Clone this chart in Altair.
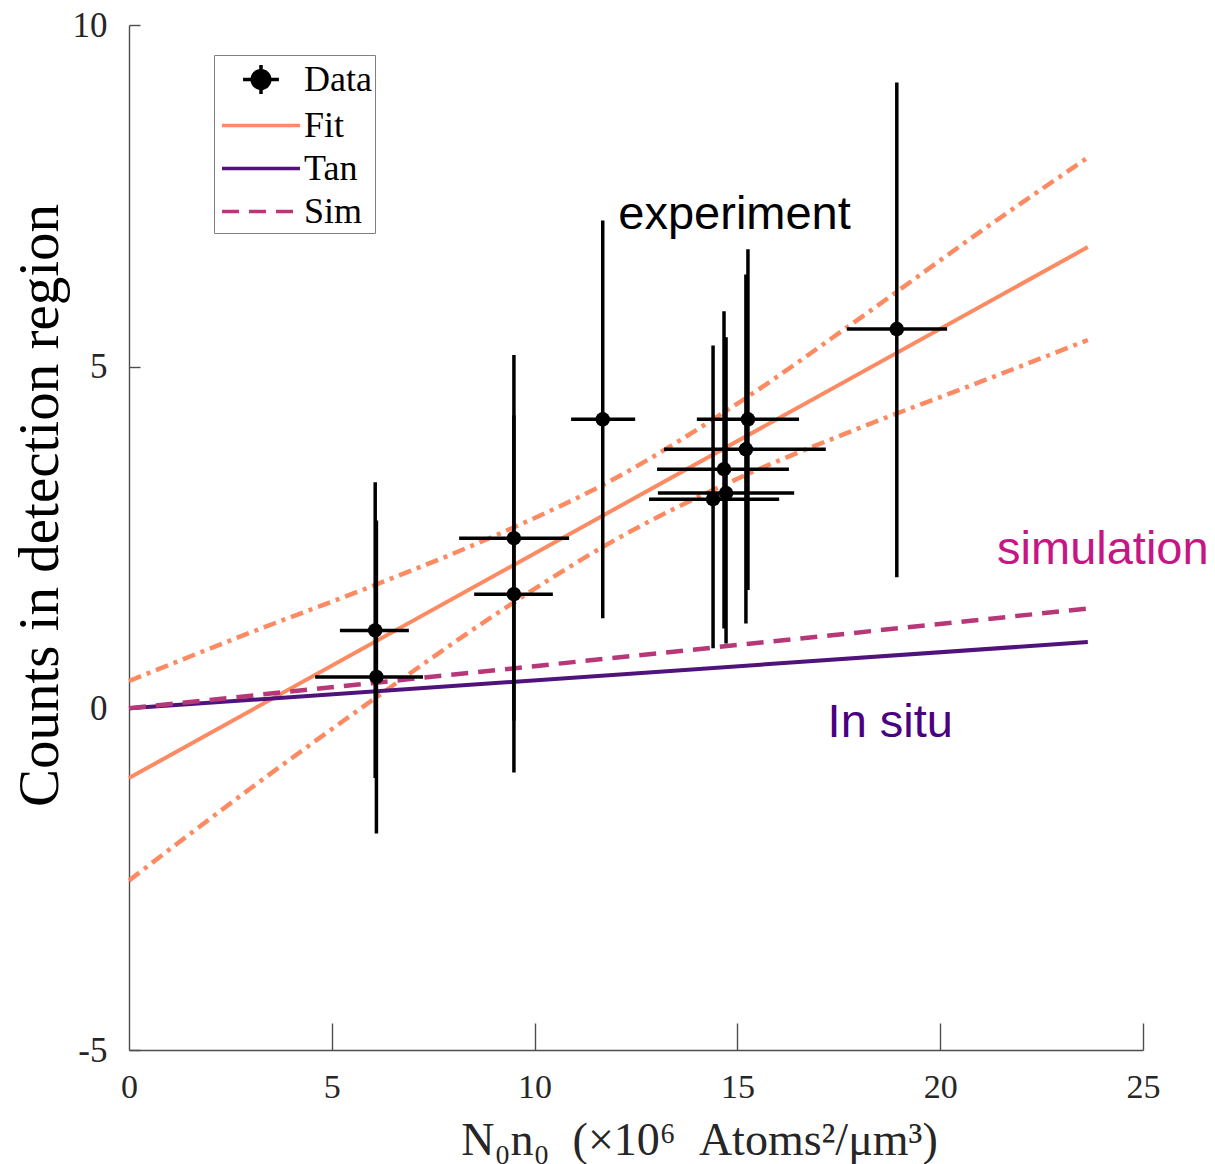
import altair as alt
import pandas as pd

# ---------------- data ----------------
x_val = [6.07, 6.10, 9.49, 9.49, 11.68, 14.40, 14.67, 14.72, 15.21, 15.26, 18.93]
y_val = [1.14, 0.46, 2.49, 1.67, 4.23, 3.06, 3.50, 3.15, 3.79, 4.23, 5.55]
x_lo = [5.20, 4.59, 8.14, 8.51, 10.90, 12.82, 13.02, 13.04, 13.19, 14.00, 17.70]
x_hi = [6.90, 7.25, 10.85, 10.45, 12.48, 16.03, 16.27, 16.40, 17.18, 16.52, 20.17]
y_lo = [-1.02, -1.83, -0.18, -0.94, 1.32, 0.88, 1.17, 0.95, 1.24, 1.73, 1.92]
y_hi = [3.31, 2.75, 5.17, 4.29, 7.14, 5.31, 5.81, 5.43, 6.35, 6.72, 9.16]

fit_x = [0, 23.64]
fit_y = [-1.02, 6.75]
ci_x = [0, 3, 6, 9, 12, 15, 18, 21, 23.64]
ci_upper = [0.40, 1.11, 1.79, 2.52, 3.37, 4.46, 5.70, 6.98, 8.06]
ci_lower = [-2.52, -1.17, 0.12, 1.36, 2.47, 3.36, 4.10, 4.78, 5.39]
tan_x = [0, 23.64]
tan_y = [0, 0.97]
sim_x = [0, 23.64]
sim_y = [0, 1.46]

x_ticks = [0, 5, 10, 15, 20, 25]
y_ticks = [-5, 0, 5, 10]

ann_text = ["experiment", "simulation", "In situ"]
ann_x = [14.93, 24.01, 18.77]
ann_y = [7.02, 2.11, -0.42]
ann_color = ["#000000", "#C71585", "#4B0082"]

legend_labels = ["Data", "Fit", "Tan", "Sim"]

# ---------------- styles ----------------
FIT_C = "#FC8A62"
TAN_C = "#50127B"
SIM_C = "#B73779"
legend_colors = ["#000000", FIT_C, TAN_C, SIM_C]
data_path = ("M-0.92,0L0.92,0M0,-0.74L0,0.74"
             "M-0.45,0A0.45,0.45 0 1,0 0.45,0A0.45,0.45 0 1,0 -0.45,0Z")
line_path = "M-2,0L2,0"
legend_shapes = [data_path, line_path, line_path, line_path]
legend_dashes = [[1, 0], [1, 0], [1, 0], [17, 10]]

AXIS_C = "#4d4d4d"
TXT_C = "#262626"
SERIF = "Liberation Serif"
SANS = "Liberation Sans"
W, H = 1014, 1025

xscale = alt.Scale(domain=[0, 25], nice=False, zero=False)
yscale = alt.Scale(domain=[-5, 10], nice=False, zero=False)

x_axis_main = alt.Axis(values=x_ticks, ticks=False, domain=True, domainColor=AXIS_C,
                       domainWidth=1.4, grid=False, labelFont=SERIF, labelFontSize=34,
                       labelColor=TXT_C, labelPadding=20, labelFlush=False,
                       labelExpr="'' + datum.value",
                       title="N₀n₀\u2002(×10⁶\u2002Atoms²/μm³)", titleFont=SERIF,
                       titleFontSize=46, titleFontWeight="normal", titleColor=TXT_C,
                       titleX=570, titleY=90, titleBaseline="middle")
y_axis_main = alt.Axis(values=y_ticks, ticks=False, domain=True, domainColor=AXIS_C,
                       domainWidth=1.4, grid=False, labelFont=SERIF, labelFontSize=35,
                       labelColor=TXT_C, labelPadding=22, labelFlush=False,
                       labelExpr="'' + datum.value",
                       title="Counts in detection region", titleFont=SERIF, titleFontSize=57,
                       titleFontWeight="normal", titleColor="#000000", titleX=-89, titleY=480,
                       titleBaseline="middle")
x_axis_ticks = alt.Axis(orient="top", offset=-H, values=[5, 10, 15, 20, 25], labels=False,
                        domain=False, ticks=True, tickSize=27, tickColor=AXIS_C,
                        tickWidth=1.4, grid=False, title=None)
y_axis_ticks = alt.Axis(orient="right", offset=-W, values=y_ticks, labels=False,
                        domain=False, ticks=True, tickSize=11, tickColor=AXIS_C,
                        tickWidth=1.4, grid=False, title=None)


def line_layer(xs, ys, color, width, dash=None, interp="linear", xaxis=None, yaxis=None):
    df = pd.DataFrame({"x": xs, "y": ys})
    kw = dict(color=color, strokeWidth=width, interpolate=interp, strokeCap="butt")
    if dash:
        kw["strokeDash"] = dash
    return alt.Chart(df).mark_line(**kw).encode(
        x=alt.X("x:Q", scale=xscale, axis=xaxis),
        y=alt.Y("y:Q", scale=yscale, axis=yaxis),
    )


ci_up = line_layer(ci_x, ci_upper, FIT_C, 4.5, dash=[13, 6, 4, 6], interp="monotone")
ci_lo = line_layer(ci_x, ci_lower, FIT_C, 4.5, dash=[13, 6, 4, 6], interp="monotone")
fit = line_layer(fit_x, fit_y, FIT_C, 4, xaxis=x_axis_ticks, yaxis=y_axis_ticks)
tan = line_layer(tan_x, tan_y, TAN_C, 4)
sim = line_layer(sim_x, sim_y, SIM_C, 4.5, dash=[17, 10])

pts = pd.DataFrame({"x": x_val, "y": y_val, "xlo": x_lo, "xhi": x_hi,
                    "ylo": y_lo, "yhi": y_hi})
base = alt.Chart(pts)
xerr = base.mark_rule(color="black", strokeWidth=3.5).encode(
    x=alt.X("xlo:Q", scale=xscale, axis=None), x2="xhi:Q",
    y=alt.Y("y:Q", scale=yscale, axis=None))
yerr = base.mark_rule(color="black", strokeWidth=3.5).encode(
    x=alt.X("x:Q", scale=xscale, axis=None),
    y=alt.Y("ylo:Q", scale=yscale, axis=None), y2="yhi:Q")
dots = base.mark_circle(color="black", size=210, opacity=1).encode(
    x=alt.X("x:Q", scale=xscale, axis=x_axis_main),
    y=alt.Y("y:Q", scale=yscale, axis=y_axis_main))

ann = pd.DataFrame({"t": ann_text, "x": ann_x, "y": ann_y, "c": ann_color})
texts = alt.Chart(ann).mark_text(font=SANS, fontSize=47, align="center",
                                 baseline="alphabetic").encode(
    x=alt.X("x:Q", scale=xscale, axis=None),
    y=alt.Y("y:Q", scale=yscale, axis=None),
    text="t:N",
    color=alt.Color("c:N", scale=None),
)

leg = alt.Legend(title=None, orient="none", legendX=85, legendY=30, padding=3,
                 fillColor="white", strokeColor="#808080", symbolSize=1521,
                 symbolStrokeWidth=3.5, symbolOffset=22.5, labelOffset=21.5,
                 labelFont=SERIF, labelFontSize=36, labelColor="black", rowPadding=3)
leg_df = pd.DataFrame({"series": legend_labels})
legend_layer = alt.Chart(leg_df).transform_filter("false").mark_point(
    filled=False, fill="black", fillOpacity=1, opacity=1, size=1521, strokeWidth=3.5
).encode(
    color=alt.Color("series:N", scale=alt.Scale(domain=legend_labels, range=legend_colors),
                    legend=leg),
    shape=alt.Shape("series:N", scale=alt.Scale(domain=legend_labels, range=legend_shapes),
                    legend=leg),
    strokeDash=alt.StrokeDash("series:N",
                              scale=alt.Scale(domain=legend_labels, range=legend_dashes),
                              legend=leg),
)

chart = alt.layer(ci_up, ci_lo, fit, tan, sim, xerr, yerr, dots, texts, legend_layer).resolve_axis(
    x="independent", y="independent"
).properties(
    width=W, height=H,
    autosize=alt.AutoSizeParams(type="none"),
    padding={"left": 129, "top": 25, "right": 72, "bottom": 114},
    background="white",
).configure_view(stroke=None)

chart.save("out.html", embed_options={"renderer": "svg", "actions": False})
